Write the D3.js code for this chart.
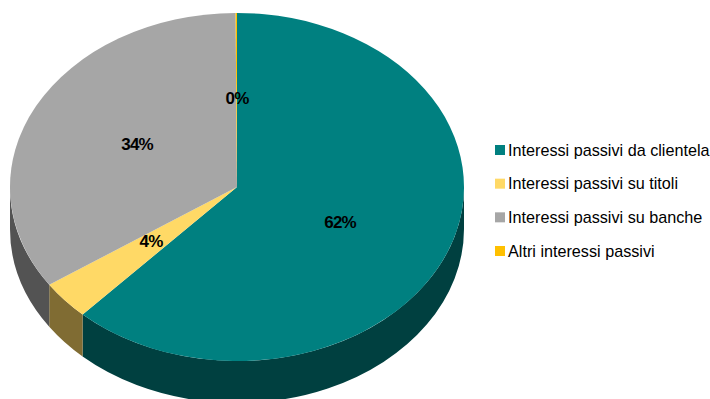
<!DOCTYPE html>
<html>
<head>
<meta charset="utf-8">
<script src="https://cdn.jsdelivr.net/npm/d3@7/dist/d3.min.js"></script>
<style>
html,body{margin:0;padding:0;background:#fff;}
svg{display:block;}
text{font-family:"Liberation Sans",Arial,sans-serif;fill:#000;}
</style>
</head>
<body>
<svg id="chart" width="710" height="399"></svg>
<script>
const categories = ["Interessi passivi da clientela","Interessi passivi su titoli","Interessi passivi su banche","Altri interessi passivi"];
const shares = [0.619, 0.036, 0.344, 0.001];
const topColors = ["#008080","#FFD966","#A6A6A6","#FFC000"];
const wallColors = ["#004040","#806C33","#535353","#806000"];

const cx = 237, cy = 187, rx = 227, ry = 174, depth = 42;
const svg = d3.select("#chart");

const slices = d3.pie().sort(null).value(d => d)(shares)
  .map((s, i) => ({...s, i}));

// Scales turning a pie angle (clockwise from the top) into ellipse coordinates
const xAt = d3.scaleLinear().domain([-1, 1]).range([cx - rx, cx + rx]);
const yAt = d3.scaleLinear().domain([-1, 1]).range([cy - ry, cy + ry]);
const px = a => xAt(Math.sin(a));
const py = a => yAt(-Math.cos(a));

// Rim walls: only the part of each slice on the near half of the disc shows
const nearStart = Math.PI / 2, nearEnd = Math.PI * 1.5;
const wallPath = s => {
  const a0 = Math.max(s.startAngle, nearStart), a1 = Math.min(s.endAngle, nearEnd);
  if (a1 <= a0) return null;
  return `M${px(a0)},${py(a0)}A${rx},${ry} 0 0 1 ${px(a1)},${py(a1)}` +
         `L${px(a1)},${py(a1) + depth}A${rx},${ry} 0 0 0 ${px(a0)},${py(a0) + depth}Z`;
};
svg.append("g").selectAll("path")
  .data(slices.filter(s => wallPath(s)))
  .join("path")
  .attr("d", wallPath)
  .attr("fill", d => wallColors[d.i]);

// Top face: a circular pie flattened into an ellipse
const arc = d3.arc().innerRadius(0).outerRadius(rx);
svg.append("g")
  .attr("transform", `translate(${cx},${cy}) scale(1,${ry / rx})`)
  .selectAll("path")
  .data(slices)
  .join("path")
  .attr("d", arc)
  .attr("fill", d => topColors[d.i]);

// Percentage labels
const labelFormat = d3.format(".0%");
const labelSpots = [[340, 222], [151, 241], [137, 144], [237, 98]];
svg.append("g").selectAll("text")
  .data(slices)
  .join("text")
  .attr("x", d => labelSpots[d.i][0])
  .attr("y", d => labelSpots[d.i][1])
  .attr("dy", "0.36em")
  .attr("text-anchor", "middle")
  .attr("font-size", 17)
  .attr("font-weight", "bold")
  .attr("letter-spacing", "-0.9")
  .text(d => labelFormat(d.data));

// Legend
const rowY = d3.scalePoint().domain(categories).range([150, 251]);
const legend = svg.append("g").selectAll("g")
  .data(categories)
  .join("g")
  .attr("transform", d => `translate(495,${rowY(d)})`);
legend.append("rect")
  .attr("x", 0).attr("y", -5).attr("width", 10).attr("height", 10)
  .attr("fill", (d, i) => topColors[i]);
legend.append("text")
  .attr("x", 13).attr("y", 5.5)
  .attr("font-size", 16.2)
  .text(d => d);
</script>
</body>
</html>
